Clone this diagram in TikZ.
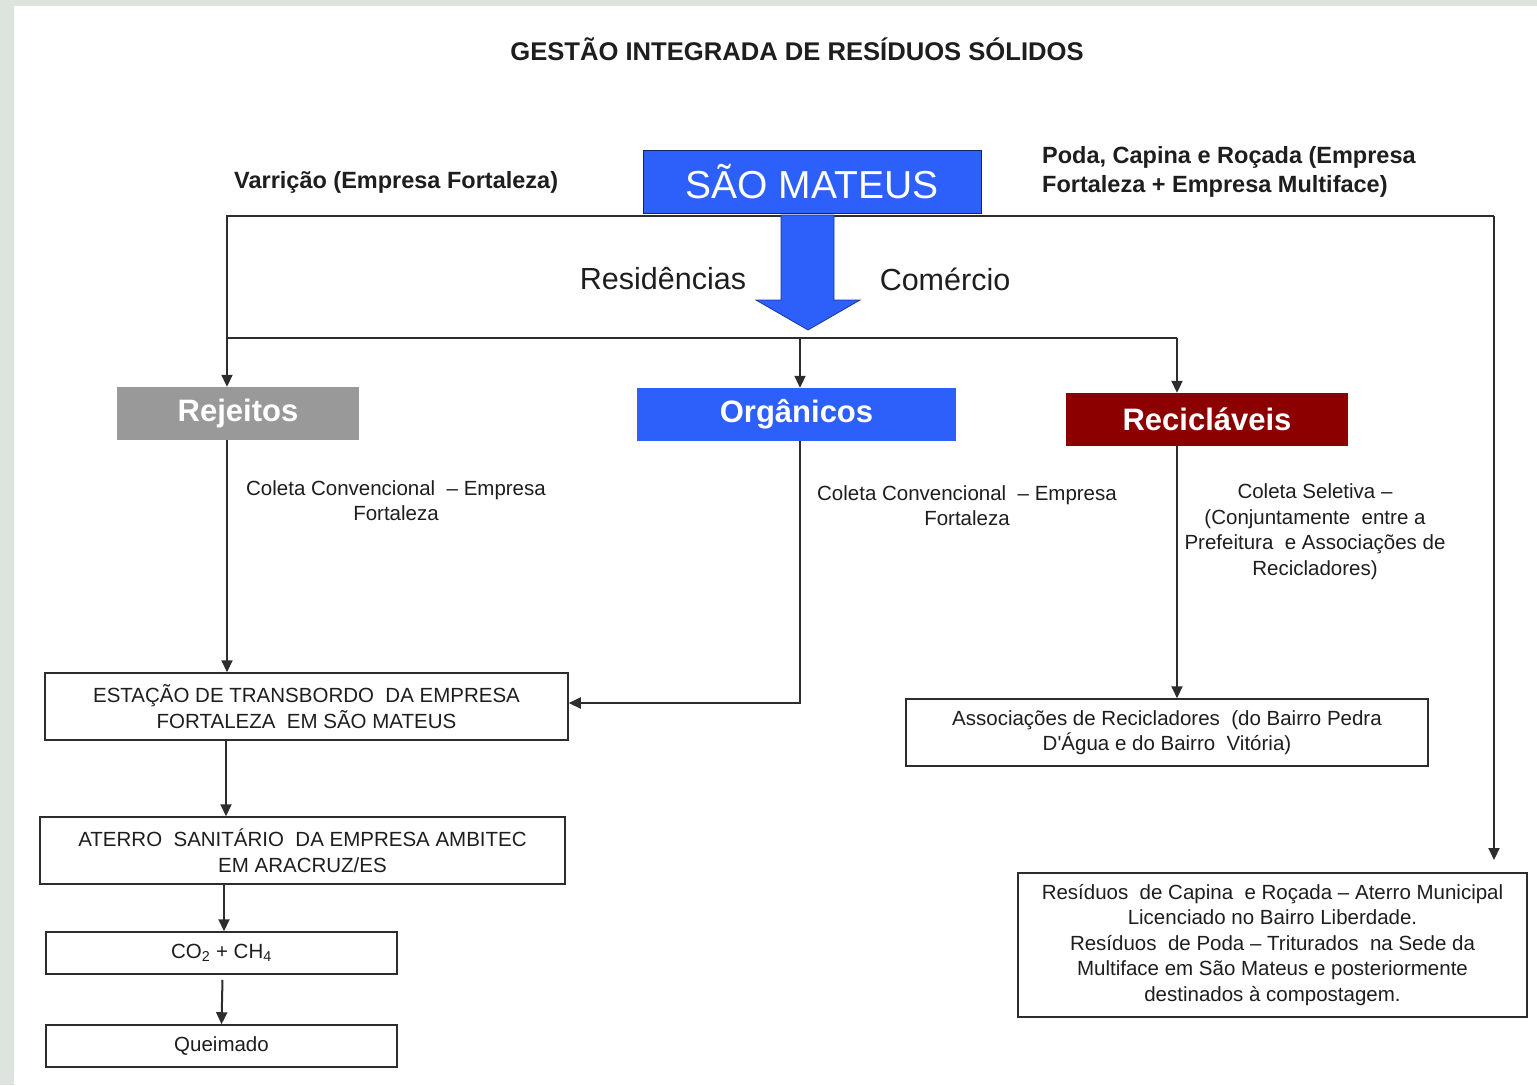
\documentclass[tikz,border=0pt]{standalone}
\usepackage{fontspec}
\setmainfont{Liberation Sans}
\usetikzlibrary{arrows.meta}
\definecolor{bggreen}{RGB}{221,228,221}
\definecolor{sblue}{RGB}{45,95,250}
\definecolor{dred}{RGB}{140,0,0}
\definecolor{rgray}{RGB}{153,153,153}
\definecolor{ln}{RGB}{45,45,45}
\definecolor{txt}{RGB}{30,30,30}
\begin{document}
\begin{tikzpicture}[x=1pt,y=-1pt,
 conn/.style={draw=ln,line width=2pt},
 arr/.style={conn,-{Triangle[length=12pt,width=11pt]}},
 wbox/.style={draw=ln,line width=1.5pt,fill=white,inner sep=0pt,align=center,text=txt,font=\fontsize{20.5}{25.5}\selectfont},
 cbox/.style={inner sep=0pt,text=white,font=\fontsize{31}{36}\selectfont\bfseries},
 lbl/.style={inner sep=0pt,align=center,text=txt,font=\fontsize{20.5}{25.5}\selectfont},
 blbl/.style={inner sep=0pt,align=left,text=txt,font=\fontsize{23.5}{29}\selectfont\bfseries},
 mlbl/.style={inner sep=0pt,text=txt,font=\fontsize{30.5}{36}\selectfont},
]
% background
\fill[bggreen] (0,0) rectangle (1537,1085);
\fill[white] (14,6) rectangle (1537,1085);
\useasboundingbox (0,0) rectangle (1537,1085);

% title
\node[inner sep=0pt,text=txt,font=\fontsize{25.6}{30}\selectfont\bfseries] (title) at (797,49) {GESTÃO INTEGRADA DE RESÍDUOS SÓLIDOS};

% coordinates of the connector grid
\coordinate (tl) at (227,216);
\coordinate (tr) at (1494,216);
\coordinate (ml) at (227,338);
\coordinate (mr) at (1177,338);
\coordinate (mo) at (800,338);
\coordinate (oc) at (800,703);
\coordinate (pe) at (1494,860);
\coordinate (c1) at (226,0);
\coordinate (c2) at (224,0);

% top connectors (drawn before the boxes)
\draw[conn] (tr) -- (tl) -- (ml) -- (mr);

% big blue arrow
\draw[fill=sblue,draw=sblue!60!black,line width=0.8pt]
  (781,215) -- (834,215) -- (834,300) -- (860,300) -- (808,330) -- (756,300) -- (781,300) -- cycle;

% main box
\node[fill=sblue,draw=sblue!40!black,line width=1pt,inner sep=0pt,minimum width=338pt,minimum height=63pt,text=white,font=\fontsize{39}{44}\selectfont] (sm) at (812,181.5) {SÃO MATEUS};

% side labels
\node[blbl,anchor=west] (varr) at (234,182) {Varrição (Empresa Fortaleza)};
\node[blbl,anchor=west] (poda) at (1042,171.5) {Poda, Capina e Roçada (Empresa\\Fortaleza + Empresa Multiface)};
\node[mlbl] (resid) at (663,279) {Residências};
\node[mlbl] (comer) at (945,279) {Comércio};

% category boxes
\node[cbox,fill=rgray,minimum width=242pt,minimum height=53pt] (rej) at (238,413.5) {Rejeitos};
\node[cbox,fill=sblue,minimum width=319pt,minimum height=53pt] (org) at (796.5,414.5) {Orgânicos};
\node[cbox,fill=dred,minimum width=282pt,minimum height=53pt] (rec) at (1207,419.5) {Recicláveis};

% white boxes
\node[wbox,minimum width=523pt,minimum height=67pt] (est) at (306.5,706.5) {ESTAÇÃO DE TRANSBORDO\ \ DA EMPRESA\\FORTALEZA\ \ EM SÃO MATEUS};
\node[wbox,minimum width=525pt,minimum height=67pt] (ate) at (302.5,850.5) {ATERRO\ \ SANITÁRIO\ \ DA EMPRESA AMBITEC\\EM ARACRUZ/ES};
\node[wbox,minimum width=351pt,minimum height=42pt] (co) at (221.5,953) {CO\textsubscript{2} + CH\textsubscript{4}};
\node[wbox,minimum width=351pt,minimum height=42pt] (que) at (221.5,1046) {Queimado};
\node[wbox,minimum width=522pt,minimum height=67pt] (asc) at (1167,732.5) {Associações de Recicladores\ \ (do Bairro Pedra\\D\textquotesingle Água e do Bairro\ \ Vitória)};
\node[wbox,minimum width=509pt,minimum height=144pt] (dest) at (1272.5,945) {Resíduos\ \ de Capina\ \ e Roçada -- Aterro Municipal\\Licenciado no Bairro Liberdade.\\Resíduos\ \ de Poda -- Triturados\ \ na Sede da\\Multiface em São Mateus e posteriormente\\destinados à compostagem.};

% branch labels
\node[lbl] (l1) at (396,500.5) {Coleta Convencional\ \ -- Empresa\\Fortaleza};
\node[lbl] (l2) at (967,505.5) {Coleta Convencional\ \ -- Empresa\\Fortaleza};
\node[lbl] (l3) at (1315,531.5) {Coleta Seletiva --\\(Conjuntamente\ \ entre a\\Prefeitura\ \ e Associações de\\Recicladores)};

% arrows
\draw[arr] (ml) -- (ml |- rej.north);
\draw[arr] (mo) -- (mo |- org.north);
\draw[arr] (mr) -- (mr |- rec.north);
\draw[arr] (tr) -- (pe);
\draw[arr] (ml |- rej.south) -- (ml |- est.north);
\draw[arr] (mo |- org.south) -- (oc) -- (oc -| est.east);
\draw[arr] (mr |- rec.south) -- (mr |- asc.north);
\draw[arr] (c1 |- est.south) -- (c1 |- ate.north);
\draw[arr] (c2 |- ate.south) -- (c2 |- co.north);
\draw[arr] ([xshift=1pt,yshift=-5pt]co.south) -- (que.north);
\end{tikzpicture}
\end{document}
